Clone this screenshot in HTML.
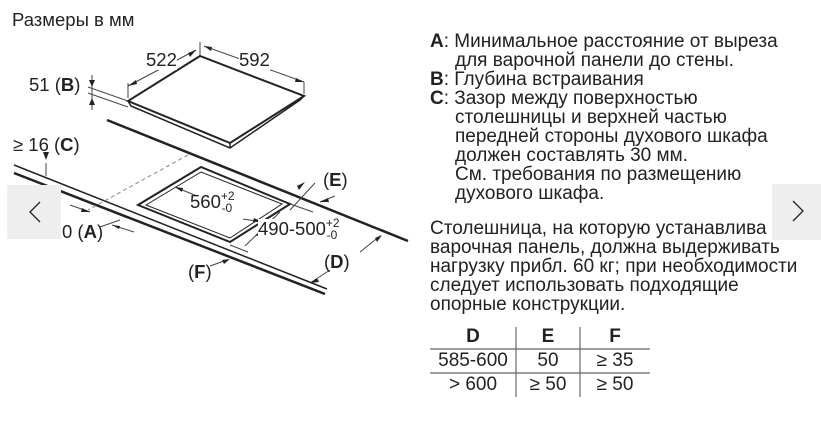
<!DOCTYPE html>
<html><head><meta charset="utf-8"><style>
body{margin:0;width:821px;height:438px;background:#fff;position:relative;overflow:hidden;font-family:"Liberation Sans","DejaVu Sans",sans-serif;color:#222}
.t{position:absolute;white-space:nowrap;font-size:19px;line-height:19px}
.d{position:absolute;white-space:nowrap;font-size:18.5px;line-height:20px;color:#222}
b{font-weight:bold}
svg{position:absolute;left:0;top:0}
.nav{position:absolute;background:#eeeeee}
.sp{font-size:12px;position:relative;top:-8px}
.sb{font-size:12px;position:relative;top:4px;left:-13px}
</style></head><body>
<svg width="821" height="438" viewBox="0 0 821 438">
<g stroke="#222" fill="none">
<polygon points="200,56 128,101 230,143 304,96" stroke-width="2" fill="#fff"/>
<polyline points="128,101 131,106 230,148 300,100 304,96" stroke-width="1.5"/>
<line x1="230" y1="143" x2="230" y2="148" stroke-width="1.5"/>
<line x1="107" y1="120" x2="408" y2="241" stroke-width="2.5"/>
<line x1="14" y1="165" x2="327" y2="289" stroke-width="1.5"/>
<line x1="14" y1="173" x2="325" y2="294" stroke-width="2.5"/>
<polygon points="201,167 138,205 230,242 290,204" stroke-width="2"/>
<polygon points="201,172 146,205 230,238 282,204" stroke-width="1"/>
<line x1="188" y1="155" x2="88" y2="210" stroke-width="1" stroke-dasharray="4,3" stroke="#888"/>
<g stroke-width="1" stroke="#444">
<line x1="128" y1="83" x2="128" y2="98"/><line x1="128" y1="86" x2="196" y2="50"/>
<line x1="200" y1="42" x2="200" y2="55"/><line x1="204" y1="46" x2="304" y2="82"/>
<line x1="304" y1="82" x2="304" y2="94"/>
<line x1="92" y1="75" x2="92" y2="110"/>
<line x1="88" y1="87" x2="128" y2="101"/><line x1="88" y1="93" x2="128" y2="107"/>
<line x1="46" y1="176" x2="46" y2="163"/>
<line x1="70" y1="205" x2="90" y2="212"/><line x1="112" y1="225" x2="134" y2="232"/>
<line x1="100" y1="227" x2="120" y2="220"/>
<line x1="175" y1="187" x2="197" y2="196"/><line x1="243" y1="219" x2="262" y2="222"/>
<line x1="290" y1="210" x2="315" y2="183"/><line x1="290" y1="204" x2="313" y2="212"/>
<line x1="245" y1="246" x2="280" y2="212"/><line x1="230" y1="245" x2="248" y2="252"/>
<line x1="227" y1="260" x2="210" y2="266"/>
<line x1="320" y1="202" x2="335" y2="196"/>
<line x1="380" y1="236" x2="360" y2="252"/><line x1="330" y1="270" x2="310" y2="283"/>
</g>
<g fill="#222" stroke="none">
<polygon points="128,86 136,80 137,84"/><polygon points="196,50 188,53 190,57"/>
<polygon points="204,46 212,47 211,51"/><polygon points="304,82 296,78 295,82"/>
<polygon points="92,87 89,80 95,80"/><polygon points="92,98 89,105 95,105"/>
<polygon points="46,160 43,152 49,152"/>
<polygon points="90,212 82,208 81,212"/><polygon points="112,225 120,226 119,229"/>
<polygon points="175,187 183,188 182,192"/><polygon points="262,222 254,218 253,222"/>
<polygon points="305,182 297,186 299,190"/><polygon points="255,236 262,231 264,235"/>
<polygon points="230,259 222,260 224,264"/><polygon points="320,202 328,198 329,202"/>
<polygon points="382,235 375,238 377,242"/><polygon points="310,283 317,278 319,282"/>
</g>
</g>
</svg>
<div class="d" style="left:12px;top:10px">Размеры в мм</div>
<div class="d" style="left:146px;top:50px;background:#fff">522</div>
<div class="d" style="left:239px;top:50px;background:#fff">592</div>
<div class="d" style="left:29px;top:75px">51 (<b>B</b>)</div>
<div class="d" style="left:13px;top:135px">≥ 16 (<b>C</b>)</div>
<div class="d" style="left:62px;top:222px">0 (<b>A</b>)</div>
<div class="d" style="left:190px;top:192px">560<span class="sp">+2</span><span class="sb">-0</span></div>
<div class="d" style="left:258px;top:219px;background:#fff">490-500<span class="sp">+2</span><span class="sb">-0</span></div>
<div class="d" style="left:323px;top:170px">(<b>E</b>)</div>
<div class="d" style="left:324px;top:252px">(<b>D</b>)</div>
<div class="d" style="left:188px;top:262px">(<b>F</b>)</div>

<div class="nav" style="left:7px;top:185px;width:54px;height:54px"></div>
<svg width="821" height="438"><polyline points="40,202 30,212 40,222" fill="none" stroke="#222" stroke-width="1.3"/></svg>

<div class="t" style="left:430px;top:32px"><b>A</b>: Минимальное расстояние от выреза</div>
<div class="t" style="left:455px;top:51px">для варочной панели до стены.</div>
<div class="t" style="left:430px;top:70px"><b>B</b>: Глубина встраивания</div>
<div class="t" style="left:430px;top:89px"><b>C</b>: Зазор между поверхностью</div>
<div class="t" style="left:455px;top:108px">столешницы и верхней частью</div>
<div class="t" style="left:455px;top:127px">передней стороны духового шкафа</div>
<div class="t" style="left:455px;top:146px">должен составлять 30 мм.</div>
<div class="t" style="left:455px;top:165px">См. требования по размещению</div>
<div class="t" style="left:455px;top:184px">духового шкафа.</div>
<div class="t" style="left:430px;top:219px">Столешница, на которую устанавлива</div>
<div class="t" style="left:430px;top:238px">варочная панель, должна выдерживать</div>
<div class="t" style="left:430px;top:257px">нагрузку прибл. 60 кг; при необходимости</div>
<div class="t" style="left:430px;top:276px">следует использовать подходящие</div>
<div class="t" style="left:430px;top:295px">опорные конструкции.</div>

<div class="nav" style="left:772px;top:184px;width:49px;height:56px"></div>
<svg width="821" height="438"><polyline points="793,201 803,211 793,221" fill="none" stroke="#222" stroke-width="1.3"/>
<g stroke="#666" stroke-width="1.2"><line x1="430" y1="349" x2="650" y2="349"/><line x1="430" y1="373" x2="650" y2="373"/>
<line x1="516" y1="327" x2="516" y2="397"/><line x1="580" y1="327" x2="580" y2="397"/></g></svg>
<div class="t" style="left:430px;top:327px;width:86px;text-align:center"><b>D</b></div>
<div class="t" style="left:516px;top:327px;width:64px;text-align:center"><b>E</b></div>
<div class="t" style="left:580px;top:327px;width:70px;text-align:center"><b>F</b></div>
<div class="t" style="left:430px;top:351px;width:86px;text-align:center">585-600</div>
<div class="t" style="left:516px;top:351px;width:64px;text-align:center">50</div>
<div class="t" style="left:580px;top:351px;width:70px;text-align:center">≥ 35</div>
<div class="t" style="left:430px;top:375px;width:86px;text-align:center">&gt; 600</div>
<div class="t" style="left:516px;top:375px;width:64px;text-align:center">≥ 50</div>
<div class="t" style="left:580px;top:375px;width:70px;text-align:center">≥ 50</div>
</body></html>
